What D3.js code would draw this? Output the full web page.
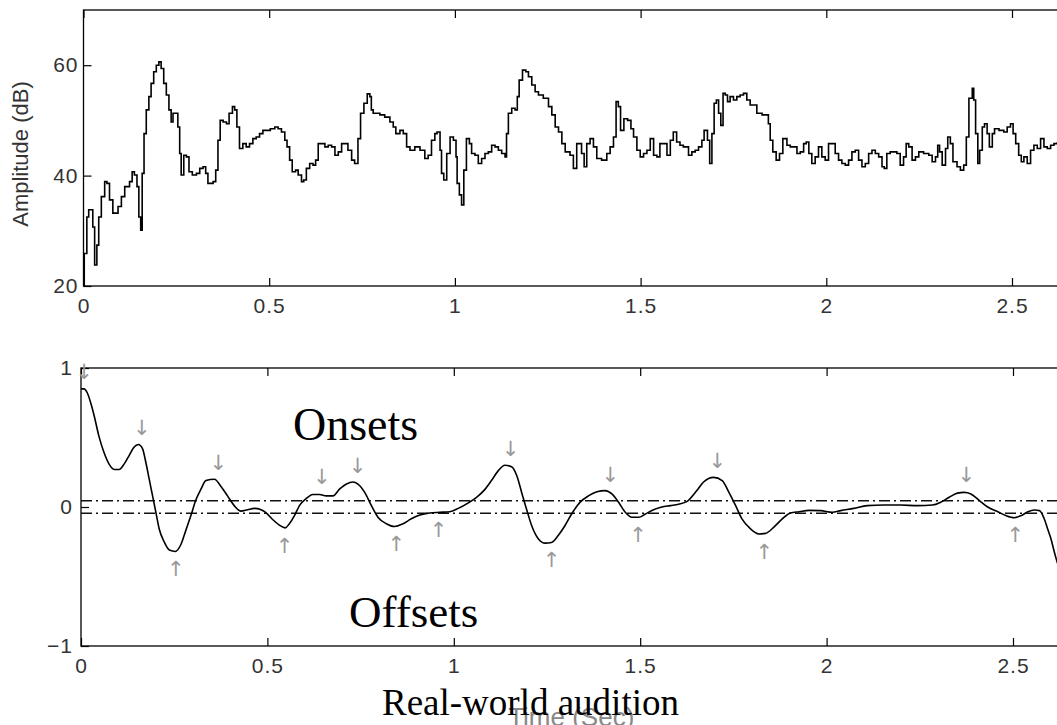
<!DOCTYPE html>
<html>
<head>
<meta charset="utf-8">
<title>Real-world audition</title>
<style>
  body { margin: 0; background: #fff; }
  svg { display: block; }
  .tick text { font-family: "Liberation Sans", Arial, sans-serif; font-size: 21px; fill: #333; letter-spacing: 1px; }
  .tick line { stroke: #000; stroke-width: 1.2px; }
  .frame { stroke: #000; stroke-width: 1.3px; }
  .trace { fill: none; stroke: #000; stroke-width: 1.6px; }
  .thresh { stroke: #111; stroke-width: 1.3px; stroke-dasharray: 11,4,2,4; }
  .arrow { font-family: "DejaVu Sans", sans-serif; font-size: 21px; fill: #999; }
  .caption { font-family: "Liberation Serif", "Times New Roman", serif; fill: #000; }
</style>
<script src="https://cdnjs.cloudflare.com/ajax/libs/d3/7.8.5/d3.min.js"></script>
</head>
<body>
<div id="chart"></div>
<script>
// upper panel: amplitude envelope (dB)
var ampTime = [0.000,0.002,0.009,0.014,0.025,0.030,0.036,0.041,0.048,0.057,0.063,0.070,0.079,0.093,0.102,0.111,0.124,0.131,0.137,0.144,
  0.149,0.154,0.158,0.163,0.169,0.176,0.182,0.189,0.196,0.203,0.209,0.216,0.223,0.230,0.236,0.241,0.250,0.254,0.259,0.263,
  0.270,0.277,0.284,0.293,0.304,0.313,0.322,0.329,0.335,0.349,0.356,0.362,0.368,0.376,0.385,0.392,0.401,0.407,0.413,0.420,
  0.429,0.438,0.447,0.456,0.465,0.474,0.483,0.492,0.503,0.515,0.524,0.533,0.542,0.548,0.555,0.562,0.571,0.578,0.587,0.593,
  0.600,0.609,0.618,0.625,0.632,0.641,0.650,0.659,0.668,0.677,0.686,0.695,0.704,0.712,0.722,0.730,0.739,0.746,0.755,0.764,
  0.771,0.775,0.780,0.798,0.811,0.825,0.834,0.841,0.852,0.861,0.870,0.879,0.892,0.906,0.919,0.928,0.937,0.946,0.952,0.960,
  0.964,0.970,0.978,0.987,0.996,1.003,1.006,1.012,1.018,1.024,1.031,1.039,1.045,1.054,1.063,1.072,1.081,1.090,1.099,1.108,
  1.117,1.126,1.135,1.139,1.144,1.153,1.162,1.168,1.173,1.182,1.191,1.198,1.207,1.216,1.225,1.238,1.252,1.261,1.270,1.279,
  1.288,1.297,1.310,1.319,1.328,1.337,1.341,1.348,1.355,1.364,1.373,1.382,1.395,1.409,1.418,1.427,1.434,1.440,1.446,1.455,
  1.465,1.474,1.481,1.490,1.499,1.508,1.517,1.526,1.535,1.544,1.552,1.562,1.571,1.580,1.588,1.597,1.606,1.615,1.629,1.638,
  1.647,1.656,1.665,1.671,1.677,1.680,1.686,1.692,1.698,1.704,1.710,1.716,1.722,1.728,1.734,1.741,1.750,1.759,1.768,1.777,
  1.786,1.795,1.804,1.813,1.827,1.840,1.844,1.849,1.856,1.865,1.874,1.883,1.894,1.903,1.912,1.921,1.930,1.939,1.946,1.953,
  1.961,1.970,1.979,1.988,1.997,2.006,2.015,2.024,2.033,2.042,2.051,2.060,2.069,2.078,2.087,2.096,2.105,2.114,2.123,2.132,
  2.141,2.150,2.156,2.163,2.172,2.181,2.190,2.199,2.208,2.215,2.222,2.231,2.240,2.249,2.262,2.276,2.285,2.294,2.300,2.305,
  2.312,2.321,2.327,2.334,2.341,2.352,2.361,2.370,2.377,2.384,2.393,2.397,2.402,2.408,2.413,2.420,2.426,2.433,2.439,2.447,
  2.453,2.465,2.478,2.487,2.496,2.503,2.510,2.518,2.525,2.532,2.541,2.550,2.559,2.568,2.577,2.586,2.595,2.604,2.613,2.622];
var ampDb = [20.0,25.9,32.5,33.8,30.7,23.8,27.4,32.5,36.2,38.9,38.6,35.6,33.2,34.4,36.2,38.0,38.9,40.7,40.1,38.0,
  32.5,30.1,40.4,47.6,51.9,54.3,56.7,58.8,60.0,60.6,59.4,56.7,54.6,51.9,49.7,51.3,51.3,48.8,44.0,40.1,
  43.7,43.4,40.7,40.1,40.4,41.3,41.6,40.4,38.6,38.9,41.0,46.4,50.0,49.7,49.4,51.3,52.5,51.9,48.8,44.9,
  45.8,45.2,45.8,46.7,47.0,47.6,48.2,48.2,48.5,48.8,48.5,47.9,46.4,45.2,42.8,40.7,41.0,40.1,38.9,39.2,
  41.3,42.2,41.9,42.8,45.8,45.8,45.2,45.5,45.2,43.7,44.3,45.8,45.8,44.6,42.8,42.2,46.7,51.3,53.1,54.8,
  54.3,51.9,51.3,51.0,50.6,49.7,48.8,47.6,48.2,47.6,45.2,44.6,45.2,44.6,43.1,43.7,46.4,47.6,47.9,44.6,
  40.4,39.2,44.0,47.0,46.4,43.4,38.6,36.5,34.7,41.0,46.7,45.8,44.0,43.7,42.2,43.1,44.0,44.3,45.5,45.2,
  44.6,44.0,43.4,47.6,51.3,52.2,51.9,54.3,57.3,59.1,58.8,57.9,56.4,55.2,54.6,54.0,52.5,51.0,48.8,47.9,
  45.8,44.3,43.7,41.3,45.8,45.8,44.0,41.6,45.8,46.7,45.2,43.1,42.8,44.0,45.2,47.0,53.4,52.5,48.2,50.3,
  50.0,48.5,47.0,44.6,43.4,44.0,44.6,46.7,43.7,43.4,45.8,45.8,43.7,46.4,47.9,46.1,45.5,45.2,43.7,44.3,
  44.6,45.2,46.4,48.2,48.2,46.4,42.2,47.6,53.1,53.7,51.3,49.1,54.9,54.6,53.4,54.3,53.7,54.3,54.6,54.9,
  53.7,52.8,52.8,51.3,51.0,51.0,49.4,46.4,44.3,42.8,44.0,46.7,45.5,45.2,45.2,44.0,44.3,45.8,46.1,44.0,
  42.2,43.4,45.2,43.4,42.8,45.8,45.8,44.0,42.8,42.2,41.9,42.8,44.3,44.6,42.8,41.6,42.2,44.0,44.6,44.0,
  43.4,41.6,41.3,44.0,44.3,44.3,44.0,41.9,43.4,45.8,45.2,42.8,43.4,44.3,44.0,43.7,42.5,43.4,45.5,44.3,
  41.9,44.9,47.0,45.8,42.5,41.6,41.0,41.9,47.0,54.0,55.8,53.7,47.6,42.2,44.6,48.8,49.4,47.6,45.2,47.6,
  48.5,48.2,47.9,48.8,49.4,47.6,45.8,43.7,42.5,43.4,42.2,44.6,45.5,44.9,46.7,45.2,44.9,45.5,45.8,46.1];

// lower panel: onset/offset detection function
var detTime = [0.000,0.008,0.017,0.026,0.035,0.048,0.062,0.075,0.089,0.102,0.116,0.129,0.142,0.154,0.165,0.174,0.183,0.192,0.201,0.210,
  0.223,0.237,0.253,0.268,0.281,0.295,0.308,0.322,0.335,0.358,0.375,0.393,0.411,0.429,0.447,0.465,0.483,0.496,0.514,0.532,
  0.548,0.559,0.573,0.586,0.604,0.622,0.640,0.658,0.676,0.694,0.712,0.729,0.743,0.761,0.779,0.797,0.819,0.841,0.864,0.886,
  0.909,0.935,0.962,0.989,1.012,1.039,1.061,1.083,1.101,1.119,1.137,1.155,1.169,1.182,1.195,1.209,1.227,1.245,1.262,1.280,
  1.298,1.316,1.339,1.361,1.384,1.406,1.424,1.442,1.460,1.478,1.496,1.514,1.536,1.558,1.581,1.603,1.626,1.634,1.652,1.670,
  1.697,1.720,1.738,1.756,1.773,1.796,1.818,1.836,1.858,1.881,1.903,1.926,1.953,1.984,2.015,2.038,2.073,2.109,2.154,2.199,
  2.244,2.284,2.306,2.329,2.351,2.369,2.387,2.410,2.432,2.459,2.481,2.504,2.522,2.540,2.557,2.571,2.584,2.593,2.602,2.611,2.620];
var detVal = [0.85,0.85,0.82,0.75,0.66,0.51,0.39,0.31,0.27,0.27,0.31,0.37,0.43,0.45,0.42,0.32,0.20,0.08,-0.04,-0.16,
  -0.25,-0.31,-0.32,-0.27,-0.17,-0.06,0.05,0.13,0.19,0.20,0.15,0.08,0.01,-0.03,-0.02,-0.01,-0.02,-0.04,-0.09,-0.13,
  -0.15,-0.12,-0.06,0.01,0.06,0.09,0.09,0.08,0.08,0.13,0.165,0.18,0.165,0.105,0.01,-0.075,-0.12,-0.14,-0.12,-0.085,
  -0.058,-0.043,-0.038,-0.034,-0.01,0.03,0.07,0.125,0.19,0.26,0.30,0.29,0.225,0.105,-0.015,-0.135,-0.23,-0.26,-0.255,-0.205,
  -0.135,-0.05,0.035,0.08,0.11,0.118,0.094,0.034,-0.038,-0.074,-0.074,-0.05,-0.02,0.0,0.01,0.02,0.04,0.06,0.118,0.18,
  0.213,0.19,0.105,0.01,-0.086,-0.158,-0.194,-0.19,-0.146,-0.086,-0.043,-0.034,-0.024,-0.026,-0.038,-0.026,-0.01,0.01,0.014,0.014,
  0.01,0.014,0.034,0.07,0.10,0.105,0.094,0.046,0.0,-0.034,-0.062,-0.077,-0.062,-0.034,-0.022,-0.026,-0.086,-0.158,-0.23,-0.326,-0.41];

var onsetTimes  = [0.0, 0.155, 0.36, 0.638, 0.734, 1.144, 1.412, 1.699, 2.367];
var offsetTimes = [0.254, 0.546, 0.846, 0.959, 1.262, 1.494, 1.833, 2.506];
var thresholds  = [0.045, -0.045];

var timeTicks = [0, 0.5, 1, 1.5, 2, 2.5];
var ampTicks  = [20, 40, 60];
var detTicks  = [-1, 0, 1];

var width = 1057, height = 725;
var tMax = 2.63;

var svg = d3.select("#chart").append("svg")
  .attr("width", width)
  .attr("height", height);

// ---- upper panel ----
var x1 = d3.scaleLinear().domain([0, tMax]).range([83.5, 83.5 + tMax * 371.4]);
var y1 = d3.scaleLinear().domain([20, 70]).range([286, 10]);

var upper = svg.append("g");

upper.append("g").attr("transform", "translate(0," + y1(20) + ")")
  .call(d3.axisBottom(x1).tickValues(timeTicks).tickFormat(d3.format("")).tickSize(-8).tickPadding(12))
  .call(function(g){ g.select(".domain").remove(); });
upper.append("g").attr("transform", "translate(0," + y1(70) + ")")
  .call(d3.axisTop(x1).tickValues(timeTicks).tickFormat("").tickSize(-8))
  .call(function(g){ g.select(".domain").remove(); });
upper.append("g").attr("transform", "translate(" + x1(0) + ",0)")
  .call(d3.axisLeft(y1).tickValues(ampTicks).tickFormat(d3.format("")).tickSize(-8).tickPadding(5))
  .call(function(g){ g.select(".domain").remove(); });

upper.append("rect").attr("class", "frame")
  .attr("x", x1(0)).attr("y", y1(70))
  .attr("width", x1(tMax) - x1(0)).attr("height", y1(20) - y1(70))
  .style("fill", "none");

var ampLine = d3.line()
  .x(function(d){ return x1(d[0]); })
  .y(function(d){ return y1(d[1]); })
  .curve(d3.curveStepAfter);

upper.append("path").attr("class", "trace")
  .datum(d3.zip(ampTime, ampDb))
  .attr("d", ampLine);

upper.append("text")
  .attr("transform", "translate(28," + ((y1(20) + y1(70)) / 2 + 6) + ") rotate(-90)")
  .attr("text-anchor", "middle")
  .style("font-family", "'Liberation Sans', Arial, sans-serif")
  .style("font-size", "22px")
  .style("fill", "#333")
  .text("Amplitude (dB)");

// ---- lower panel ----
var x2 = d3.scaleLinear().domain([0, tMax]).range([81, 81 + tMax * 372.8]);
var y2 = d3.scaleLinear().domain([-1, 1]).range([646, 368]);

var lower = svg.append("g");

lower.append("g").attr("transform", "translate(0," + y2(-1) + ")")
  .call(d3.axisBottom(x2).tickValues(timeTicks).tickFormat(d3.format("")).tickSize(-8).tickPadding(12))
  .call(function(g){ g.select(".domain").remove(); });
lower.append("g").attr("transform", "translate(0," + y2(1) + ")")
  .call(d3.axisTop(x2).tickValues(timeTicks).tickFormat("").tickSize(-8))
  .call(function(g){ g.select(".domain").remove(); });
lower.append("g").attr("transform", "translate(" + x2(0) + ",0)")
  .call(d3.axisLeft(y2).tickValues(detTicks).tickFormat(d3.format("")).tickSize(-8).tickPadding(8))
  .call(function(g){ g.select(".domain").remove(); });

lower.append("rect").attr("class", "frame")
  .attr("x", x2(0)).attr("y", y2(1))
  .attr("width", x2(tMax) - x2(0)).attr("height", y2(-1) - y2(1))
  .style("fill", "none");

lower.selectAll(".thresh")
  .data(thresholds)
  .enter().append("line")
  .attr("class", "thresh")
  .attr("x1", x2(0)).attr("x2", x2(tMax))
  .attr("y1", function(d){ return y2(d); })
  .attr("y2", function(d){ return y2(d); });

var detLine = d3.line()
  .x(function(d){ return x2(d[0]); })
  .y(function(d){ return y2(d[1]); })
  .curve(d3.curveMonotoneX);

lower.append("path").attr("class", "trace")
  .datum(d3.zip(detTime, detVal))
  .attr("d", detLine);

// value of the detection curve at time t (linear between read points)
var bis = d3.bisector(function(d){ return d; }).left;
function detAt(t) {
  var i = bis(detTime, t);
  if (i <= 0) return detVal[0];
  if (i >= detTime.length) return detVal[detVal.length - 1];
  var t0 = detTime[i - 1], t1 = detTime[i];
  return detVal[i - 1] + (detVal[i] - detVal[i - 1]) * (t - t0) / (t1 - t0);
}

lower.selectAll(".onset")
  .data(onsetTimes)
  .enter().append("text")
  .attr("class", "arrow onset")
  .attr("x", function(d){ return x2(d) + 3; })
  .attr("y", function(d){ return y2(detAt(d)) - 17; })
  .attr("text-anchor", "middle")
  .attr("dominant-baseline", "central")
  .text("\u2193");

lower.selectAll(".offset")
  .data(offsetTimes)
  .enter().append("text")
  .attr("class", "arrow offset")
  .attr("x", function(d){ return x2(d); })
  .attr("y", function(d){ return y2(detAt(d)) + 18; })
  .attr("text-anchor", "middle")
  .attr("dominant-baseline", "central")
  .text("\u2191");

// x label of the lower panel, partly hidden under the caption
svg.append("text")
  .attr("x", (x2(0) + x2(tMax)) / 2)
  .attr("y", 726)
  .attr("text-anchor", "middle")
  .style("font-family", "'Liberation Sans', Arial, sans-serif")
  .style("font-size", "26px")
  .style("fill", "#888")
  .text("Time (Sec)");

svg.append("text").attr("class", "caption")
  .attr("x", 293).attr("y", 440)
  .style("font-size", "46px")
  .text("Onsets");

svg.append("text").attr("class", "caption")
  .attr("x", 349).attr("y", 627)
  .style("font-size", "45px")
  .text("Offsets");

svg.append("text").attr("class", "caption")
  .attr("x", 382).attr("y", 715)
  .style("font-size", "37px")
  .text("Real-world audition");
</script>
</body>
</html>
